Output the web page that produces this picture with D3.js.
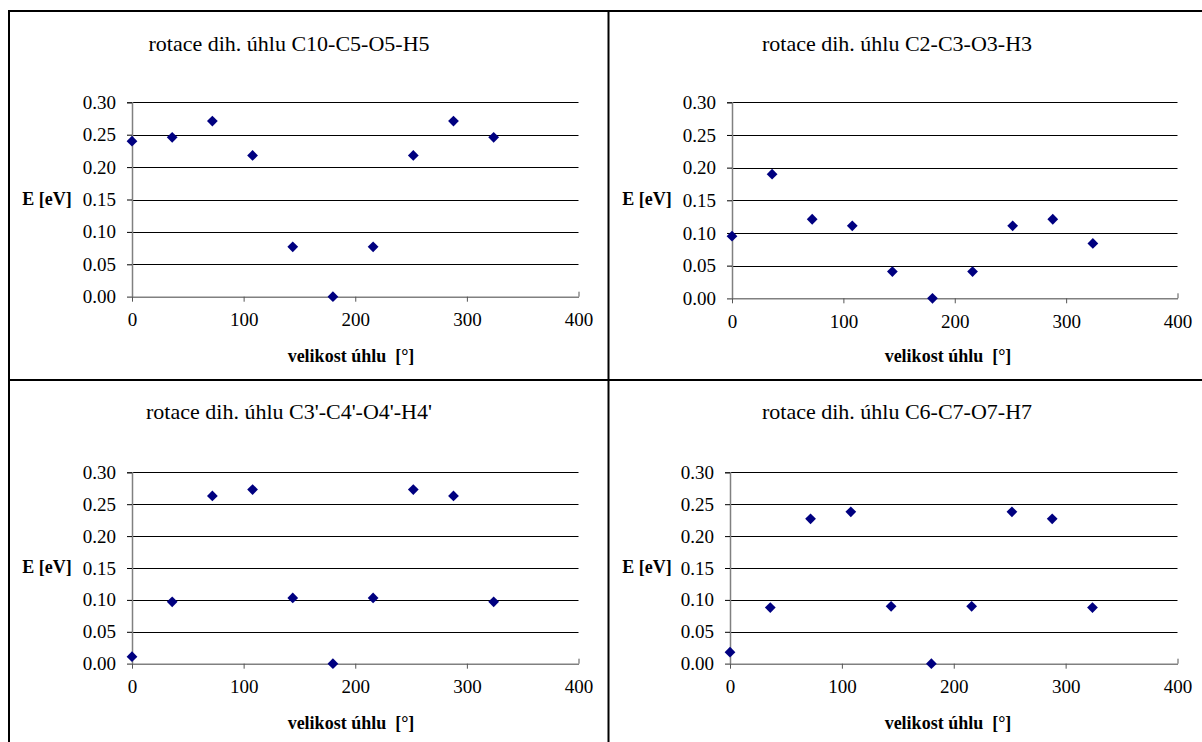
<!DOCTYPE html>
<html>
<head>
<meta charset="utf-8">
<script src="https://cdn.jsdelivr.net/npm/d3@7"></script>
</head>
<body style="margin:0;background:#fff">
<svg id="chart" width="1202" height="742" style="display:block"></svg>
<script>
// ---- data ----
const angles = [0, 36, 72, 108, 144, 180, 216, 252, 288, 324];
const titles = [
  "rotace dih. úhlu C10-C5-O5-H5",
  "rotace dih. úhlu C2-C3-O3-H3",
  "rotace dih. úhlu C3'-C4'-O4'-H4'",
  "rotace dih. úhlu C6-C7-O7-H7"
];
const energyC10C5O5H5 = [0.240, 0.246, 0.271, 0.218, 0.077, 0.000, 0.077, 0.218, 0.271, 0.246];
const energyC2C3O3H3  = [0.095, 0.190, 0.121, 0.111, 0.041, 0.000, 0.041, 0.111, 0.121, 0.084];
const energyC3C4O4H4  = [0.011, 0.097, 0.263, 0.273, 0.103, 0.000, 0.103, 0.273, 0.263, 0.097];
const energyC6C7O7H7  = [0.018, 0.088, 0.227, 0.238, 0.090, 0.000, 0.090, 0.238, 0.227, 0.088];
const xTicks = [0, 100, 200, 300, 400];
const yTicks = [0, 0.05, 0.10, 0.15, 0.20, 0.25, 0.30];
const xTitle = "velikost úhlu  [°]";
const yTitle = "E [eV]";

// ---- layout ----
const FONT = "Liberation Serif";
const series = [energyC10C5O5H5, energyC2C3O3H3, energyC3C4O4H4, energyC6C7O7H7];
const layouts = [
  { x0: 132, x1: 578.5, yTop: 102.3, yBot: 296.7, tx: 289, ty: 51,  xtx: 351, xty: 362, ylx: 47,  yly: 205 },
  { x0: 732, x1: 1177.5, yTop: 102.3, yBot: 298.3, tx: 897, ty: 51,  xtx: 948, xty: 362, ylx: 647, yly: 205 },
  { x0: 132, x1: 578.5, yTop: 472.3, yBot: 663.7, tx: 289, ty: 419, xtx: 351, xty: 729, ylx: 47,  yly: 573 },
  { x0: 730, x1: 1177.5, yTop: 472.3, yBot: 663.7, tx: 897, ty: 419, xtx: 948, xty: 729, ylx: 647, yly: 573 }
];

const svg = d3.select("#chart");

// frame lines
const frame = svg.append("g").attr("stroke", "#000").attr("stroke-width", 2);
frame.append("line").attr("x1", 9).attr("x2", 9).attr("y1", 10).attr("y2", 742);
frame.append("line").attr("x1", 8).attr("x2", 1202).attr("y1", 11).attr("y2", 11);
frame.append("line").attr("x1", 608.5).attr("x2", 608.5).attr("y1", 10).attr("y2", 742);
frame.append("line").attr("x1", 8).attr("x2", 1202).attr("y1", 380).attr("y2", 380);

const fmt = d3.format(".2f");
const diamond = d3.symbol().type(d3.symbolSquare).size(58);

layouts.forEach((L, i) => {
  const x = d3.scaleLinear().domain([0, 400]).range([L.x0, L.x1]);
  const y = d3.scaleLinear().domain([0, 0.30]).range([L.yBot, L.yTop]);
  const g = svg.append("g");

  // gridlines
  g.append("g").selectAll("line")
    .data(yTicks.filter(t => t > 0))
    .join("line")
    .attr("x1", L.x0).attr("x2", L.x1)
    .attr("y1", d => Math.round(y(d)) + 0.5).attr("y2", d => Math.round(y(d)) + 0.5)
    .attr("stroke", "#000").attr("stroke-width", 1);

  // y axis
  const ya = g.append("g").attr("transform", `translate(${L.x0},0)`)
    .call(d3.axisLeft(y).tickValues(yTicks).tickFormat(fmt).tickSize(5).tickPadding(11));
  ya.attr("font-family", FONT).attr("font-size", 19);
  ya.select(".domain").attr("stroke", "#808080").attr("stroke-width", 1.5);
  ya.selectAll(".tick line").attr("stroke", d => d === 0 ? "#808080" : "#000");
  ya.selectAll(".tick text").style("font-family", FONT).style("font-size", "19px").attr("fill", "#000");

  // x axis
  const xa = g.append("g").attr("transform", `translate(0,${L.yBot})`)
    .call(d3.axisBottom(x).tickValues(xTicks).tickSize(5).tickPadding(11).tickSizeOuter(0));
  xa.attr("font-family", FONT).attr("font-size", 19);
  xa.select(".domain").attr("stroke", "#808080").attr("stroke-width", 1.5);
  xa.selectAll(".tick line").attr("stroke", "#555")
    .attr("y2", d => d === 400 ? -5 : 5);
  xa.selectAll(".tick text").style("font-family", FONT).style("font-size", "19px").attr("fill", "#000");

  // markers
  g.append("g").selectAll("path")
    .data(angles.map((a, k) => [a, series[i][k]]))
    .join("path")
    .attr("d", diamond)
    .attr("transform", d => `translate(${x(d[0])},${y(d[1])}) rotate(45)`)
    .attr("fill", "#000080");

  // titles
  g.append("text").attr("x", L.tx).attr("y", L.ty).attr("text-anchor", "middle")
    .style("font-family", FONT).style("font-size", "22px").text(titles[i]);
  g.append("text").attr("x", L.xtx).attr("y", L.xty).attr("text-anchor", "middle")
    .style("font-family", FONT).style("font-size", "18px").style("font-weight", "bold")
    .style("white-space", "pre").text(xTitle);
  g.append("text").attr("x", L.ylx).attr("y", L.yly).attr("text-anchor", "middle")
    .style("font-family", FONT).style("font-size", "18px").style("font-weight", "bold").text(yTitle);
});
</script>
</body>
</html>
